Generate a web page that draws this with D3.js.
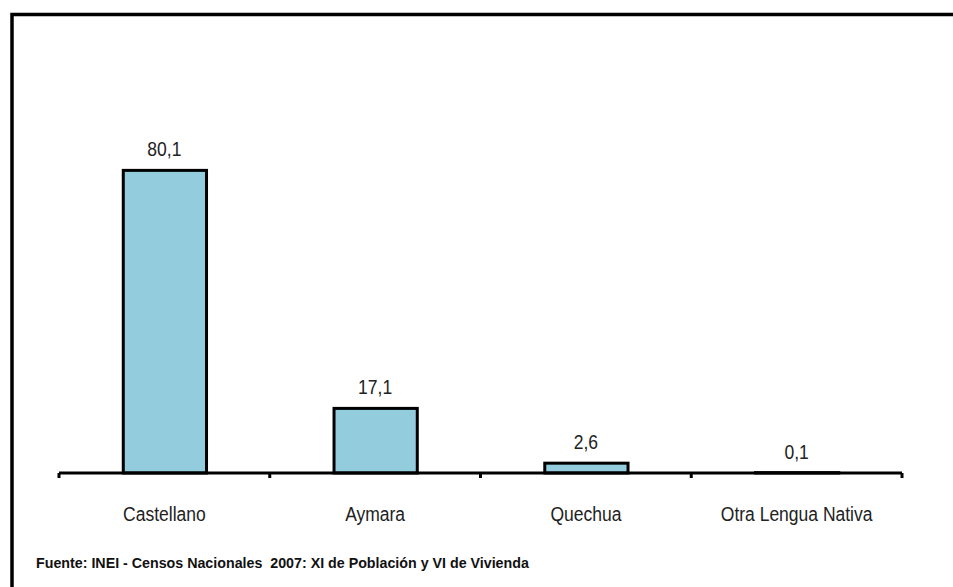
<!DOCTYPE html>
<html><head><meta charset="utf-8">
<script src="https://cdn.jsdelivr.net/npm/d3@7"></script>
<style>
html,body{margin:0;padding:0;background:#fff;}
svg{display:block;}
text{font-family:"Liberation Sans","Arial",sans-serif;white-space:pre;}
</style></head>
<body>
<script>
const categories = ["Castellano","Aymara","Quechua","Otra Lengua Nativa"];
const values = [80.1, 17.1, 2.6, 0.1];
const valueLabels = ["80,1","17,1","2,6","0,1"];
const source = "Fuente: INEI - Censos Nacionales  2007: XI de Población y VI de Vivienda";

const W = 953, H = 587;
const SX = 0.875;
const svg = d3.select("body").append("svg").attr("width", W).attr("height", H);

// frame (top and left only visible)
svg.append("path").attr("d", `M12,${H} L12,14.5 L${W},14.5`)
  .attr("fill","none").attr("stroke","#000").attr("stroke-width",3.5);

const x0 = 59, x1 = 902, yBase = 473;
const x = d3.scaleBand().domain(categories).range([x0, x1]).padding(0);
const y = d3.scaleLinear().domain([0, 100]).range([yBase, yBase - 377.8]);

const bw = x.bandwidth();
svg.selectAll("rect.bar").data(categories).join("rect").attr("class","bar")
  .attr("x", d => x(d) + bw*0.305)
  .attr("width", bw*0.395)
  .attr("y", (d,i) => y(values[i]))
  .attr("height", (d,i) => yBase - y(values[i]))
  .attr("fill","#93CDDD").attr("stroke","#000").attr("stroke-width",3);

// axis
const axis = d3.axisBottom(x).tickSize(0).tickFormat("");
const g = svg.append("g").attr("transform",`translate(0,${yBase})`).call(axis);
g.select(".domain").attr("stroke","#000").attr("stroke-width",3).attr("d",`M${x0},0H${x1}`);
const tickPos = categories.map(c => x(c)).concat([x1]);
svg.selectAll("line.tk").data(tickPos).join("line").attr("class","tk")
  .attr("x1", d=>d).attr("x2", d=>d).attr("y1", yBase).attr("y2", yBase+5)
  .attr("stroke","#000").attr("stroke-width",3);

// category labels
svg.selectAll("text.cat").data(categories).join("text").attr("class","cat")
  .attr("transform", d => `translate(${x(d) + bw/2},521) scale(${SX},1)`)
  .attr("text-anchor","middle").attr("font-size",20).attr("fill","#222")
  .text(d => d);

// value labels
svg.selectAll("text.val").data(categories).join("text").attr("class","val")
  .attr("transform", (d,i) => `translate(${x(d) + bw/2},${y(values[i]) - 14}) scale(${SX},1)`)
  .attr("text-anchor","middle").attr("font-size",20).attr("fill","#222")
  .text((d,i) => valueLabels[i]);

svg.append("text").attr("transform","translate(36,568) scale(0.92,1)")
  .attr("font-size",15.5).attr("font-weight","bold")
  .attr("fill","#111").text(source);
</script>
</body></html>
